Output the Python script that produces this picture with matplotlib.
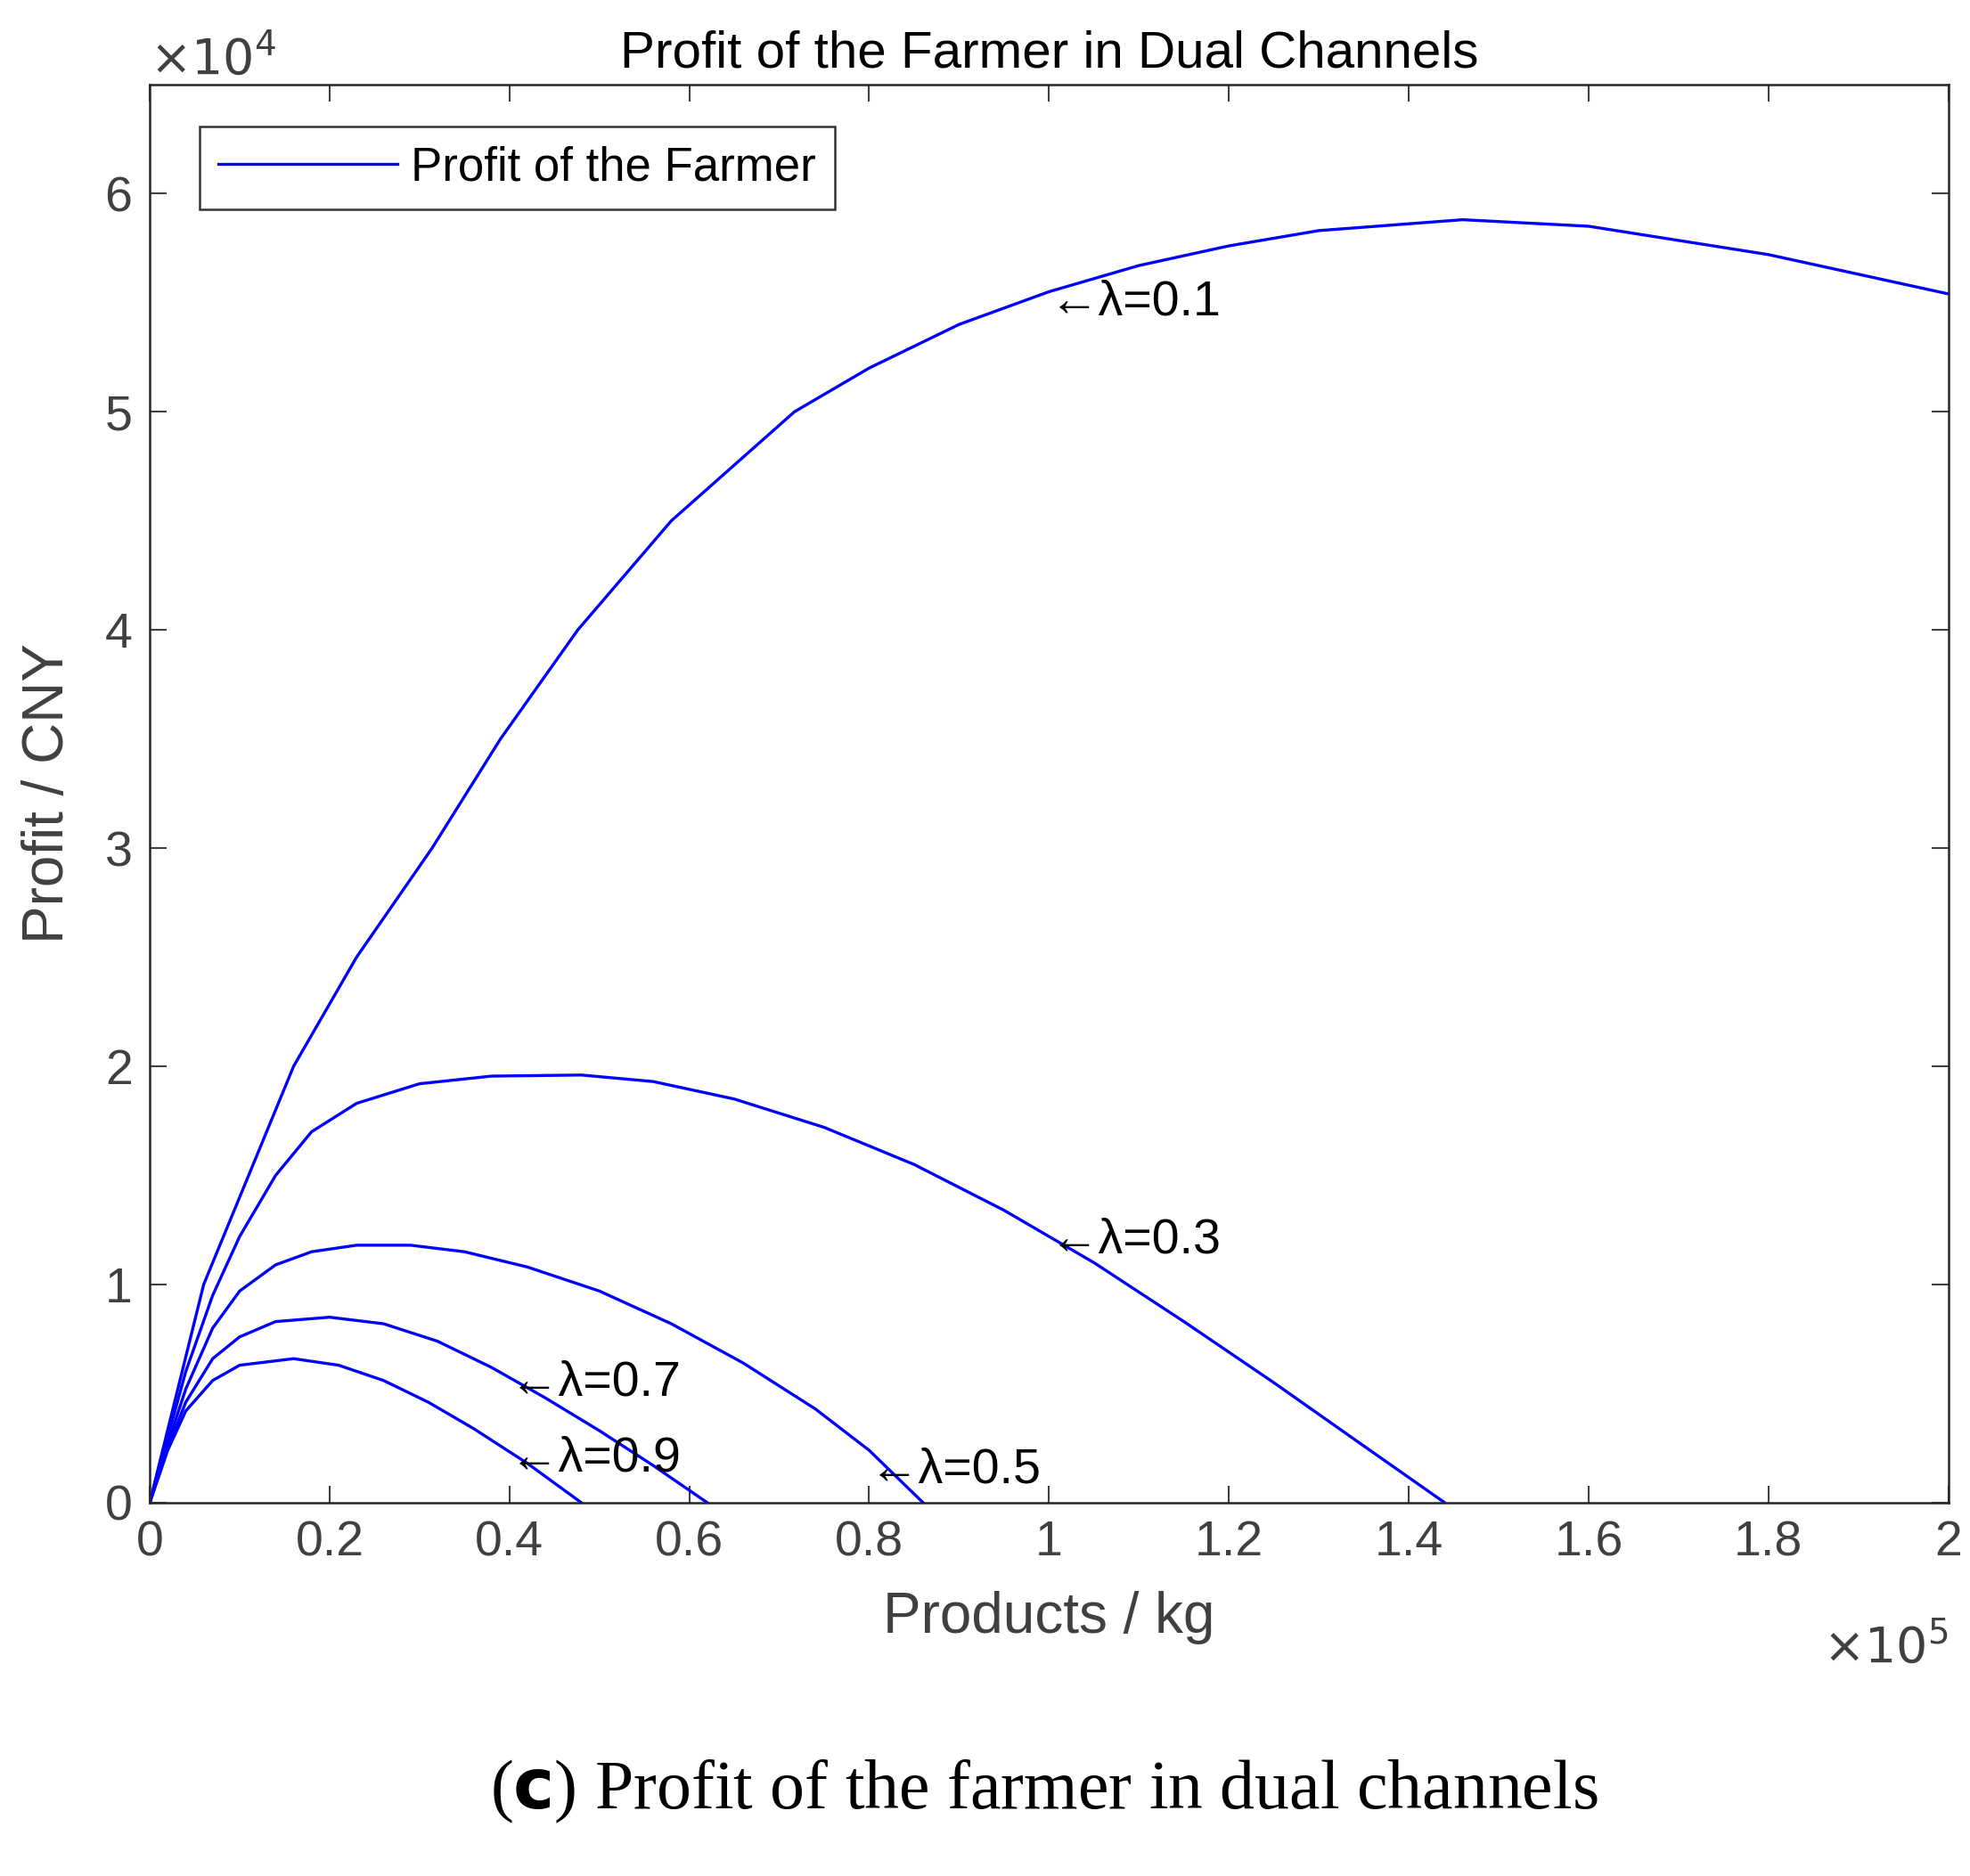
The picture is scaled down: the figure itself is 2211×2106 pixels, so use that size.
import numpy as np
import matplotlib
matplotlib.use('Agg')
import matplotlib.pyplot as plt
from matplotlib.ticker import FuncFormatter

plt.rcParams['font.family'] = ['Liberation Sans', 'DejaVu Sans']

# Curves (x in 1e5 kg, y in 1e4 CNY)
x01 = [0, 0.03, 0.06, 0.11, 0.16, 0.23, 0.314, 0.39, 0.476, 0.58, 0.717, 0.8, 0.9, 1.0, 1.1, 1.2, 1.3, 1.46, 1.6, 1.8, 2.0]
y01 = [0, 0.5, 1.0, 1.5, 2.0, 2.5, 3.0, 3.5, 4.0, 4.5, 5.0, 5.2, 5.4, 5.55, 5.67, 5.76, 5.83, 5.88, 5.85, 5.72, 5.54]
x03 = [0, 0.02, 0.04, 0.07, 0.1, 0.14, 0.18, 0.23, 0.3, 0.38, 0.48, 0.56, 0.65, 0.75, 0.85, 0.95, 1.05, 1.15, 1.25, 1.35, 1.44]
y03 = [0, 0.3, 0.6, 0.95, 1.22, 1.5, 1.7, 1.83, 1.92, 1.955, 1.96, 1.93, 1.85, 1.72, 1.55, 1.34, 1.1, 0.83, 0.55, 0.26, 0]
x05 = [0, 0.02, 0.04, 0.07, 0.1, 0.14, 0.18, 0.23, 0.29, 0.35, 0.42, 0.5, 0.58, 0.66, 0.74, 0.8, 0.86]
y05 = [0, 0.27, 0.52, 0.8, 0.97, 1.09, 1.15, 1.18, 1.18, 1.15, 1.08, 0.97, 0.82, 0.64, 0.43, 0.24, 0]
x07 = [0, 0.02, 0.04, 0.07, 0.1, 0.14, 0.2, 0.26, 0.32, 0.38, 0.44, 0.5, 0.56, 0.62]
y07 = [0, 0.25, 0.46, 0.66, 0.76, 0.83, 0.85, 0.82, 0.74, 0.62, 0.48, 0.33, 0.17, 0]
x09 = [0, 0.02, 0.04, 0.07, 0.1, 0.16, 0.21, 0.26, 0.31, 0.36, 0.42, 0.48]
y09 = [0, 0.24, 0.42, 0.56, 0.63, 0.66, 0.63, 0.56, 0.46, 0.34, 0.18, 0]

labels = ['←λ=0.1', '←λ=0.3', '←λ=0.5', '←λ=0.7', '←λ=0.9']
label_x = [1.0, 1.0, 0.8, 0.4, 0.4]
label_y = [5.5, 1.2, 0.15, 0.55, 0.2]

gray = '#404040'
fig = plt.figure(figsize=(22.11, 21.06), dpi=100)
ax = fig.add_axes([0.076, 0.199, 0.913, 0.756])

curves = [(x01, y01), (x03, y03), (x05, y05), (x07, y07), (x09, y09)]
for i, (xs, ys) in enumerate(curves):
    ax.plot(np.array(xs) * 1e5, np.array(ys) * 1e4, color='blue', lw=2.4,
            label='Profit of the Farmer' if i == 0 else None)

for t, lx, ly in zip(labels, label_x, label_y):
    ax.text(lx * 1e5, ly * 1e4, t, fontsize=40, va='center', ha='left', color='black')

ax.set_xlim(0, 2e5)
ax.set_ylim(0, 6.5e4)
ax.set_xticks(np.arange(0, 2.01e5, 0.2e5))
ax.set_yticks(np.arange(0, 6.01e4, 1e4))
ax.xaxis.set_major_formatter(FuncFormatter(lambda v, p: ('%g' % round(v / 1e5, 2))))
ax.yaxis.set_major_formatter(FuncFormatter(lambda v, p: ('%g' % round(v / 1e4, 2))))
ax.tick_params(direction='in', length=14, width=1.5, labelsize=40, colors=gray,
               top=True, right=True, pad=14)
for s in ax.spines.values():
    s.set_linewidth(1.8)
    s.set_color('#262626')

ax.text(0.0, 1.0, r'$\times10^4$', transform=ax.transAxes, fontsize=40, color=gray, va='bottom')
ax.text(1.0, -0.085, r'$\times10^5$', transform=ax.transAxes, fontsize=40, color=gray, ha='right', va='top')

ax.set_xlabel('Products / kg', fontsize=46, color=gray, labelpad=20)
ax.set_ylabel('Profit / CNY', fontsize=46, color=gray, labelpad=24)
ax.set_title('Profit of the Farmer in Dual Channels', fontsize=42, color='black', pad=14)

leg = ax.legend(loc='upper left', fontsize=38, handlelength=3.8, fancybox=False,
                borderaxespad=0.6, bbox_to_anchor=(0.012, 0.99), handletextpad=0.3)
leg.get_frame().set_edgecolor('black')
leg.get_frame().set_linewidth(1.8)

fig.text(0.53, 0.045, r'($\mathbf{c}$) Profit of the farmer in dual channels',
         fontsize=56, family=['Liberation Serif', 'DejaVu Serif'], ha='center', va='center')

fig.savefig('out.png', dpi=100)
